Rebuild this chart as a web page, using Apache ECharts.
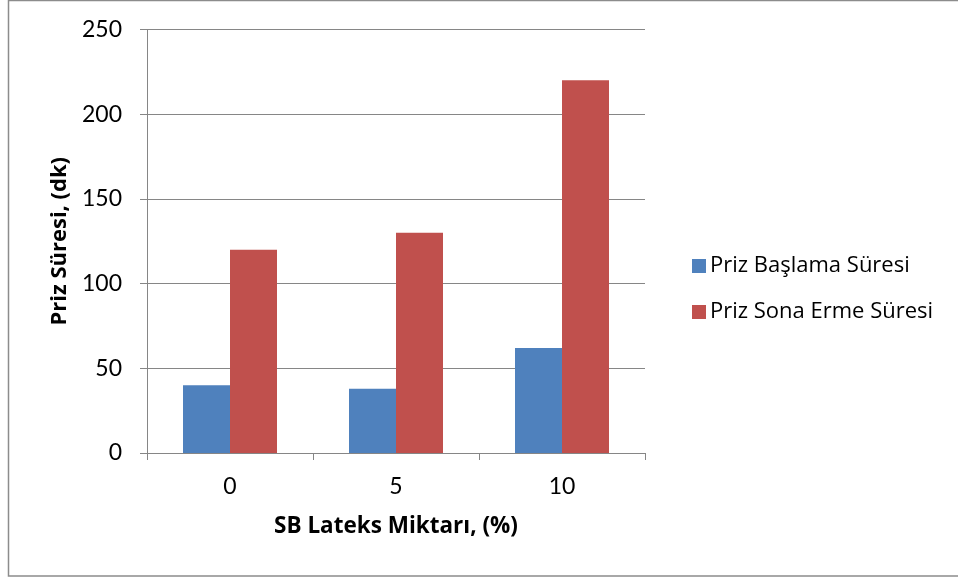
<!DOCTYPE html>
<html>
<head>
<meta charset="utf-8">
<script src="https://cdn.jsdelivr.net/npm/echarts@6/dist/echarts.min.js"></script>
<style>html,body{margin:0;padding:0;background:#fff;}#c{width:958px;height:580px;}</style>
</head>
<body>
<div id="c"></div>
<script>
const categories = ['0', '5', '10'];
const seriesNames = ['Priz Başlama Süresi', 'Priz Sona Erme Süresi'];
const baslama = [40, 38, 62];
const sonaErme = [120, 130, 220];
const yTicks = [0, 50, 100, 150, 200, 250];

const FONT = '"Open Sans", Lato, sans-serif';
const NUMFONT = 'Lato, "Open Sans", sans-serif';
const chart = echarts.init(document.getElementById('c'), null, {renderer: 'canvas'});
chart.setOption({
  animation: false,
  backgroundColor: '#fff',
  color: ['#4F81BD', '#C0504D'],
  graphic: [{
    type: 'rect', z: -1,
    shape: {x: 8.5, y: 0.5, width: 960, height: 575.5},
    style: {fill: 'none', stroke: '#8c8c8c', lineWidth: 1.5}
  }],
  grid: {left: 147, right: 313, top: 29.5, bottom: 127, containLabel: false},
  legend: {
    orient: 'vertical', left: 687, top: 250,
    itemWidth: 14, itemHeight: 14, itemGap: 24,
    icon: 'rect',
    textStyle: {fontFamily: FONT, fontSize: 22, color: '#000', padding: [0, 0, 0, -1]},
    data: seriesNames
  },
  xAxis: {
    type: 'category', data: categories,
    name: 'SB Lateks Miktarı, (%)', nameLocation: 'middle', nameGap: 62,
    nameTextStyle: {fontFamily: FONT, fontSize: 22.5, fontWeight: 'bold', color: '#000'},
    axisLine: {lineStyle: {color: '#868686', width: 1}},
    axisTick: {show: true, length: 7, lineStyle: {color: '#868686'}},
    axisLabel: {fontFamily: NUMFONT, fontSize: 23, color: '#000', margin: 22}
  },
  yAxis: {
    type: 'value', min: 0, max: 250, interval: 50,
    name: 'Priz Süresi, (dk)', nameLocation: 'middle', nameGap: 70,
    nameTextStyle: {fontFamily: FONT, fontSize: 22, fontWeight: 'bold', color: '#000'},
    axisLine: {show: true, lineStyle: {color: '#868686', width: 1}},
    axisTick: {show: true, length: 7, lineStyle: {color: '#868686'}},
    splitLine: {show: true, lineStyle: {color: '#868686', width: 1}},
    axisLabel: {fontFamily: NUMFONT, fontSize: 23, color: '#000', margin: 25,
      formatter: v => yTicks.includes(v) ? String(v) : ''}
  },
  series: [
    {name: seriesNames[0], type: 'bar', data: baslama, barWidth: 47, barGap: '0%'},
    {name: seriesNames[1], type: 'bar', data: sonaErme, barWidth: 47, barGap: '0%'}
  ]
});
</script>
</body>
</html>
